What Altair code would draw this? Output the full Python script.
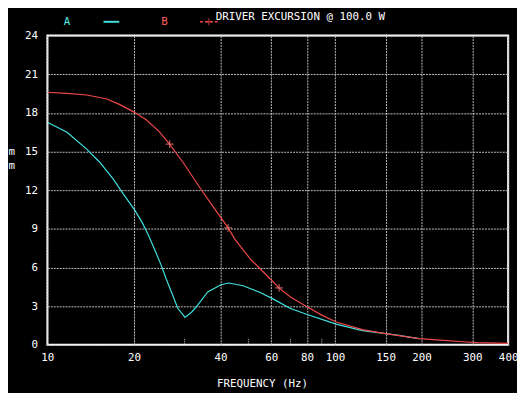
import altair as alt
import pandas as pd

# ---- data ----
freq_a = [10, 11.7, 13.7, 15.2, 16.9, 18.3, 20.1, 21.4, 22.4, 23.6, 24.9, 25.9, 27.0,
          28.4, 30.1, 31.9, 33.3, 36.1, 40.1, 42.8, 48.2, 55.0, 61.1, 69.7, 79.6, 100.9,
          124.6, 162.2, 196]
mm_a = [17.28, 16.5, 15.19, 14.17, 12.9, 11.75, 10.47, 9.46, 8.56, 7.4, 6.14, 5.1, 4.1,
        2.83, 2.12, 2.58, 3.08, 4.1, 4.66, 4.79, 4.56, 4.05, 3.54, 2.83, 2.37, 1.6,
        1.09, 0.77, 0.48]

freq_b = [10, 11.7, 13.7, 16.0, 17.8, 20.1, 22.0, 24.4, 26.6, 29.85, 34.0, 37.8, 42.5, 44.9,
          50.8, 59.5, 63.9, 70, 79.6, 90, 100.9, 124.6, 146, 162.2, 196, 233, 278, 312, 400]
mm_b = [19.6, 19.52, 19.39, 19.1, 18.66, 18.04, 17.48, 16.59, 15.57, 14.05, 12.15, 10.68, 9.07,
        8.18, 6.65, 5.12, 4.41, 3.7, 2.96, 2.3, 1.76, 1.17, 0.9, 0.74, 0.47, 0.36, 0.23, 0.16, 0.1]

marker_freq = [26.6, 42.5, 63.9]
marker_mm = [15.57, 9.07, 4.41]

x_ticks = [10, 20, 40, 60, 80, 100, 150, 200, 300, 400]
minor_ticks = [30, 50, 70, 90]
y_ticks = [0, 3, 6, 9, 12, 15, 18, 21, 24]
series_names = ["A", "B"]

FONT = "DejaVu Sans Mono"
CYAN = "#40E0E0"
RED = "#F04848"
PINK = "#FF8080"
GRID = "#c0c0c0"

curves = pd.concat([
    pd.DataFrame({"freq": freq_a, "mm": mm_a, "series": "A"}),
    pd.DataFrame({"freq": freq_b, "mm": mm_b, "series": "B"}),
])
markers = pd.DataFrame({"freq": marker_freq, "mm": marker_mm})
minor = pd.DataFrame({"freq": minor_ticks})

x_scale = alt.Scale(type="log", domain=[10, 400], nice=False)
y_scale = alt.Scale(domain=[0, 24], nice=False)

x_axis = alt.Axis(values=x_ticks, format="d", title="FREQUENCY (Hz)",
                  grid=True, gridDash=[2, 1], gridColor=GRID, gridOpacity=1,
                  ticks=False, domain=False, labelColor="white", labelFont=FONT,
                  labelFontSize=11, labelPadding=7, labelFlush=False,
                  labelOverlap=False, titleColor="white", titleFont=FONT,
                  titleFontSize=11, titleFontWeight="normal", titleX=218,
                  titleY=42, titleAlign="center", titleBaseline="alphabetic")
y_axis = alt.Axis(values=y_ticks, title=["m", "m"], grid=True, gridDash=[2, 1],
                  gridColor=GRID, gridOpacity=1, ticks=False, domain=False,
                  labelColor="white", labelFont=FONT, labelFontSize=11,
                  labelPadding=10, labelFlush=False, labelOverlap=False,
                  titleColor="white", titleFont=FONT, titleFontSize=11,
                  titleFontWeight="normal", titleAngle=0, titleX=-40, titleY=118,
                  titleAlign="left", titleBaseline="middle", titleLineHeight=14)

lines = alt.Chart(curves).mark_line(strokeWidth=1.2, clip=True).encode(
    x=alt.X("freq:Q", scale=x_scale, axis=x_axis),
    y=alt.Y("mm:Q", scale=y_scale, axis=y_axis),
    color=alt.Color("series:N", scale=alt.Scale(domain=series_names, range=[CYAN, RED]),
                    legend=None),
    order=alt.Order("freq:Q"),
)

plus_path = "M-1,0L1,0M0,-1L0,1"

points = alt.Chart(markers).mark_point(shape=plus_path, filled=False, size=64,
                                       color=PINK, strokeWidth=1.2).encode(
    x=alt.X("freq:Q", scale=x_scale, axis=x_axis),
    y=alt.Y("mm:Q", scale=y_scale, axis=y_axis))

minor_rules = alt.Chart(minor).mark_rule(color=GRID, strokeDash=[1, 1]).encode(
    x=alt.X("freq:Q", scale=x_scale, axis=x_axis), y=alt.value(308), y2=alt.value(313))

title = alt.Chart(pd.DataFrame({"t": ["DRIVER EXCURSION @ 100.0 W"]})).mark_text(
    font=FONT, fontSize=11, color="white", align="left", baseline="top").encode(
    text="t:N", x=alt.value(171), y=alt.value(-25))

leg_a = alt.Chart(pd.DataFrame({"t": [series_names[0]]})).mark_text(
    font=FONT, fontSize=11, color="#55E8E8", align="center", baseline="middle").encode(
    text="t:N", x=alt.value(20), y=alt.value(-14))
leg_b = alt.Chart(pd.DataFrame({"t": [series_names[1]]})).mark_text(
    font=FONT, fontSize=11, color="#FF6060", align="center", baseline="middle").encode(
    text="t:N", x=alt.value(119), y=alt.value(-14))
leg_a_line = alt.Chart(pd.DataFrame({"t": ["A"]})).mark_rule(color=CYAN, strokeWidth=2).encode(
    x=alt.value(57), x2=alt.value(73), y=alt.value(-14))
leg_b_line = alt.Chart(pd.DataFrame({"t": ["B"]})).mark_rule(
    color=RED, strokeWidth=1.5, strokeDash=[3, 2]).encode(
    x=alt.value(155), x2=alt.value(173), y=alt.value(-14))
leg_b_plus = alt.Chart(pd.DataFrame({"t": ["B"]})).mark_point(
    shape=plus_path, filled=False, size=49, color=RED, strokeWidth=1.2).encode(
    x=alt.value(164), y=alt.value(-14))

chart = alt.layer(
    lines, minor_rules, points, title, leg_a, leg_b, leg_a_line, leg_b_line, leg_b_plus
).properties(
    width=468, height=314,
    autosize=alt.AutoSizeParams(type="none"),
    padding={"left": 40, "top": 25, "right": 9, "bottom": 46},
    background="black",
).configure_view(stroke="white", strokeWidth=2)

chart.save("out.html", embed_options={"renderer": "svg", "actions": False})
